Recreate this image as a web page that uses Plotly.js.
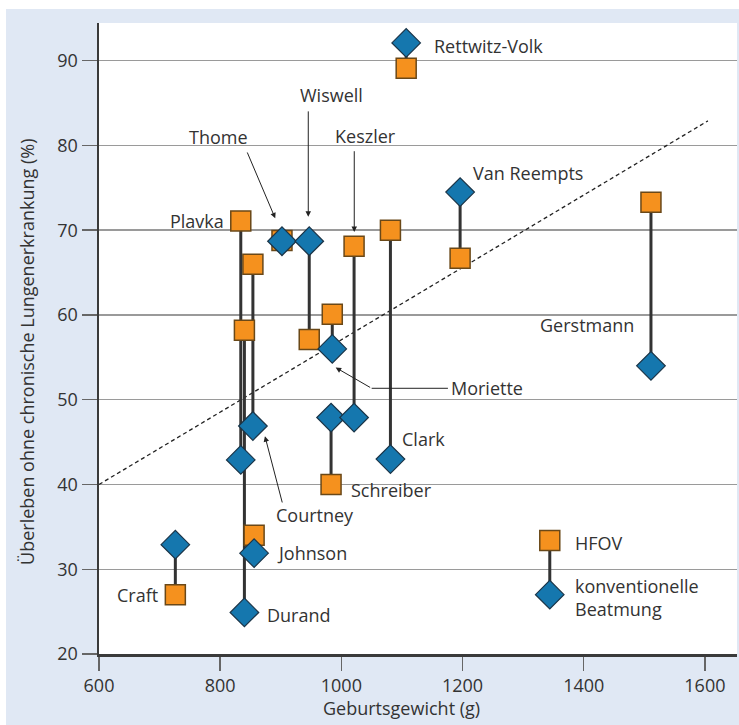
<!DOCTYPE html>
<html>
<head>
<meta charset="utf-8">
<script src="https://cdn.plot.ly/plotly-3.0.1.min.js"></script>
<style>
html,body{margin:0;padding:0;background:#ffffff;width:739px;height:725px;overflow:hidden;}
#chart{position:absolute;left:6px;top:9px;width:733px;height:716px;}
</style>
</head>
<body>
<div id="chart"></div>
<script>
// ---- data ----
const studies = ['Craft','Plavka','Durand','Courtney','Johnson','Thome','Wiswell','Moriette','Schreiber','Keszler','Clark','Rettwitz-Volk','Van Reempts','Gerstmann'];
const weight  = [726, 834, 840, 854, 856, 902, 947, 985, 983, 1021, 1081, 1107, 1196, 1511];
const hfov    = [27.0, 71.1, 58.2, 66.0, 34.0, 68.8, 57.1, 60.1, 40.0, 68.1, 70.0, 89.1, 66.7, 73.3];
const conv    = [32.9, 42.9, 24.9, 46.9, 31.9, 68.7, 68.7, 56.0, 47.9, 47.9, 43.0, 92.1, 74.5, 54.0];

// dashed reference line
const trendX = [600, 1605];
const trendY = [40, 82.9];

// legend sample
const legendX = [1344];
const legendHfov = [33.4];
const legendConv = [27.0];
const legendText = ['HFOV', 'konventionelle<br>Beatmung'];

const xTicks = [600, 800, 1000, 1200, 1400, 1600];
const yTicks = [20, 30, 40, 50, 60, 70, 80, 90];
const xTitle = 'Geburtsgewicht (g)';
const yTitle = 'Überleben ohne chronische Lungenerkrankung (%)';

// study labels: [text, x, y, anchor]
const labelText = ['Rettwitz-Volk','Plavka','Thome','Wiswell','Keszler','Van Reempts','Gerstmann','Moriette','Clark','Schreiber','Courtney','Johnson','Durand','Craft'];
const labelX    = [1149.5, 809.6, 796.4, 984.5, 1040.6, 1213.9, 1486, 1177.6, 1096.7, 1012.5, 956.4, 890.4, 873.9, 700.7];
const labelY    = [91.7, 71.1, 81.0, 85.95, 81.1, 76.75, 58.8, 51.4, 45.4, 39.35, 36.4, 31.9, 24.6, 26.96];
const labelAnchor = ['left','right','center','center','center','left','right','left','left','left','center','left','left','right'];

// arrows: tail (ax, ay) -> head (x, y)
const arrowTailX = [843.7, 945.4, 1021.3, 903.1, 1050];
const arrowTailY = [79.35, 84.2, 79.5, 37.7, 51.35];
const arrowHeadX = [890.9, 945.4, 1021.3, 873.9, 990.6];
const arrowHeadY = [71.4, 71.6, 69.8, 45.7, 53.8];
// Moriette leader line
const leaderX = [1050, 1175.9];
const leaderY = [51.35, 51.35];

// ---- styling ----
const FONT = 'Open Sans, Noto Sans, sans-serif';
const FS = 18;
const TXT = '#333333';
const ORANGE = '#F5911E';
const BLUE = '#1577AE';

// connector lines
const cx = [], cy = [];
for (let i = 0; i < weight.length; i++) {
  cx.push(weight[i], weight[i], null);
  cy.push(hfov[i], conv[i], null);
}
const lcx = [legendX[0], legendX[0]];
const lcy = [legendHfov[0], legendConv[0]];

const traces = [
  {x: trendX, y: trendY, mode: 'lines', line: {color: '#222', width: 1.3, dash: '4px,3px'}, hoverinfo: 'skip'},
  {x: cx, y: cy, mode: 'lines', line: {color: '#333', width: 3}, hoverinfo: 'skip', connectgaps: false},
  {x: lcx, y: lcy, mode: 'lines', line: {color: '#333', width: 3}, hoverinfo: 'skip'},
  {x: weight, y: hfov, mode: 'markers', text: studies, cliponaxis: false,
   marker: {symbol: 'square', size: 20, color: ORANGE, line: {color: '#6a4818', width: 1.5}}},
  {x: legendX, y: legendHfov, mode: 'markers', cliponaxis: false,
   marker: {symbol: 'square', size: 20, color: ORANGE, line: {color: '#6a4818', width: 1.5}}},
  {x: weight, y: conv, mode: 'markers', text: studies, cliponaxis: false,
   marker: {symbol: 'diamond', size: 22, color: BLUE, line: {color: '#1b3447', width: 1.2}}},
  {x: legendX, y: legendConv, mode: 'markers', cliponaxis: false,
   marker: {symbol: 'diamond', size: 22, color: BLUE, line: {color: '#1b3447', width: 1.2}}}
];

const tf = {family: FONT, size: FS, color: TXT};
const annotations = [];
for (let i = 0; i < labelText.length; i++) {
  annotations.push({x: labelX[i], y: labelY[i], xref: 'x', yref: 'y', text: labelText[i],
    showarrow: false, xanchor: labelAnchor[i], yanchor: 'middle', font: tf});
}
annotations.push({x: 1382, y: legendHfov[0] - 0.3, xref: 'x', yref: 'y', text: legendText[0], showarrow: false,
  xanchor: 'left', yanchor: 'middle', font: tf});
annotations.push({x: 1382, y: 26.67, xref: 'x', yref: 'y', text: legendText[1], showarrow: false, align: 'left',
  xanchor: 'left', yanchor: 'middle', font: tf});
for (let i = 0; i < arrowHeadX.length; i++) {
  annotations.push({x: arrowHeadX[i], y: arrowHeadY[i], ax: arrowTailX[i], ay: arrowTailY[i],
    xref: 'x', yref: 'y', axref: 'x', ayref: 'y', text: '', showarrow: true,
    arrowhead: 2, arrowsize: 1.1, arrowwidth: 1, arrowcolor: '#222', standoff: 0, startstandoff: 0,
    font: {size: 1}});
}
// axis titles
annotations.push({x: 0.4734, y: -0.0856, xref: 'paper', yref: 'paper', text: xTitle, showarrow: false,
  xanchor: 'center', yanchor: 'middle', font: tf});
annotations.push({x: -0.1129, y: 0.4786, xref: 'paper', yref: 'paper', text: yTitle, showarrow: false,
  textangle: -90, xanchor: 'center', yanchor: 'middle', font: tf});

const layout = {
  width: 733, height: 716,
  margin: {l: 93, r: 2, t: 14, b: 71},
  paper_bgcolor: '#E0E8F4',
  plot_bgcolor: '#FFFFFF',
  showlegend: false,
  font: tf,
  xaxis: {
    range: [600, 1653], tickvals: xTicks, ticktext: xTicks.map(String),
    showgrid: false, zeroline: false,
    showline: true, linecolor: '#3a3a3a', linewidth: 2.5,
    ticks: 'outside', ticklen: 14, tickwidth: 1.5, tickcolor: '#666',
    tickfont: tf
  },
  yaxis: {
    range: [20, 94.45], tickvals: yTicks, ticktext: yTicks.map(String),
    showgrid: true, gridcolor: '#9a9a9a', gridwidth: 1.5, zeroline: false,
    showline: true, linecolor: '#3a3a3a', linewidth: 2.5,
    ticks: 'outside', ticklen: 15, tickwidth: 1.5, tickcolor: '#666',
    tickfont: tf
  },
  shapes: [
    {type: 'line', xref: 'x', yref: 'y', x0: leaderX[0], y0: leaderY[0], x1: leaderX[1], y1: leaderY[1],
     line: {color: '#222', width: 1}}
  ],
  annotations: annotations
};

Plotly.newPlot('chart', traces, layout, {displayModeBar: false, staticPlot: true});
</script>
</body>
</html>
